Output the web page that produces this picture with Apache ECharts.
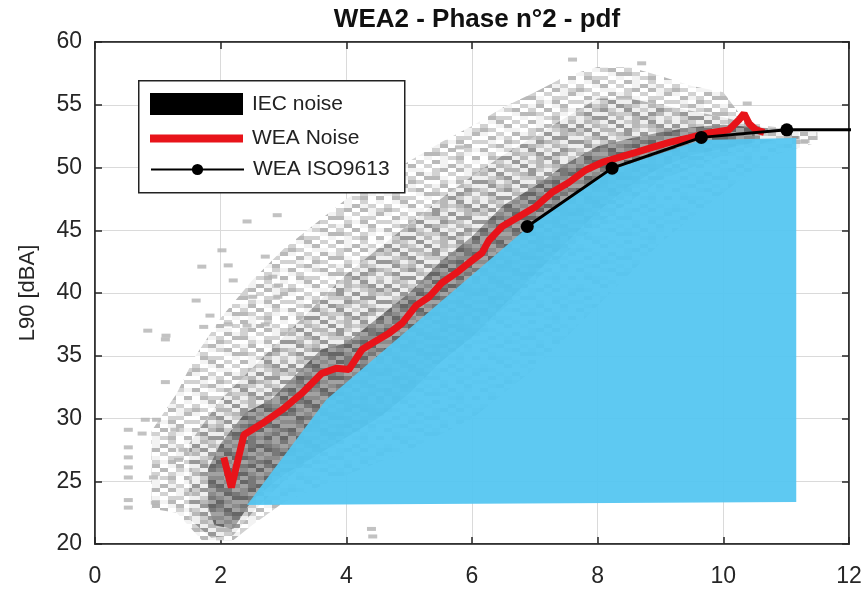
<!DOCTYPE html>
<html>
<head>
<meta charset="utf-8">
<title>WEA2 - Phase n°2 - pdf</title>
<script src="https://cdn.jsdelivr.net/npm/echarts@6/dist/echarts.min.js"></script>
<style>
  html, body { margin: 0; padding: 0; background: #fff; }
  #chart { width: 865px; height: 590px; }
</style>
</head>
<body>
<div id="chart"></div>
<script>
// WEA Noise (red curve): [wind speed, L90]
var weaNoise = [[2.05,26.9],[2.17,24.5],[2.37,28.7],[2.66,29.6],[2.98,30.7],[3.29,32.0],[3.61,33.6],
  [3.84,34.0],[4.04,33.9],[4.25,35.5],[4.41,36.0],[4.68,36.8],[4.89,37.6],[5.11,39.0],[5.32,39.7],
  [5.52,40.8],[5.75,41.6],[5.95,42.4],[6.16,43.2],[6.27,44.2],[6.48,45.3],[6.75,46.1],[7.02,46.9],
  [7.27,48.0],[7.54,48.8],[7.81,49.8],[8.07,50.4],[8.34,50.8],[8.61,51.2],[8.87,51.6],[9.14,52.0],
  [9.45,52.35],[9.77,52.75],[10.09,53.0],[10.25,53.8],[10.33,54.3],[10.41,53.5],[10.52,53.0],[10.65,52.8]];

// WEA ISO9613 (black line with markers)
var isoX = [6.88, 8.23, 9.65, 11.01, 12.5];
var isoY = [45.3, 49.95, 52.4, 53.0, 53.0];

// IEC noise area (blue patch outline)
var iecArea = [[2.42,23.1],[3.68,31.5],[6.88,45.2],[8.23,49.85],[9.65,52.2],[11.16,52.35],[11.16,23.35]];

// pdf cloud envelopes (grey density), top and bottom edges left to right
var sparseTop = [[0.9,29],[1.3,32],[1.6,35],[2.0,38],[2.5,41],[3.0,43.5],[3.5,45.5],[4.0,47.5],[4.5,49],
  [5.0,50.5],[5.5,52],[6.0,53.3],[6.5,54.8],[7.0,56],[7.5,57.3],[8.0,58],[8.5,58],[9.0,57.3],[9.5,56.5],
  [10.0,56],[10.3,54],[10.7,53.3],[11.2,53],[11.5,52.8]];
var sparseBottom = [[0.9,22.8],[1.3,22.5],[1.7,20.3],[2.2,20.3],[2.5,21.5],[3.0,23.3],[4.0,25.5],
  [5.0,27.5],[6.0,30],[7.0,34],[8.0,39],[9.0,44],[10.0,48],[10.8,51],[11.5,52]];
var denseTop = [[1.5,28],[2.0,31.5],[2.5,34],[3.0,36.5],[3.5,39],[4.0,41.5],[4.5,43.5],[5.0,45.5],
  [5.5,47.5],[6.0,49.3],[6.5,51],[7.0,52.5],[7.5,54],[8.0,55.5],[8.5,55.5],[9.0,55],[9.5,54.5],[10.0,54],
  [10.4,53.5],[10.8,53.0],[11.2,52.8]];
var denseBottom = [[1.5,22],[1.85,20.5],[2.2,20.7],[2.5,22.5],[3.0,25],[3.5,27],[4.0,29],[5.0,32.5],
  [6.0,36.5],[7.0,41],[8.0,45.5],[9.0,49],[10.0,51],[10.8,52.2],[11.2,52.3]];
var coreTop = [[1.8,26],[2.0,28],[2.4,30.5],[2.8,31.5],[3.2,33.5],[3.6,35.5],[4.0,36],[4.5,38],[5.0,40],
  [5.5,42.5],[6.0,44.5],[6.5,47],[7.0,48.5],[7.5,50.3],[8.0,51.7],[8.5,52.3],[9.0,52.8],[9.5,53.2],
  [10.0,53.4],[10.5,53.2]];
var coreBottom = [[1.8,23],[1.9,21.5],[2.2,21.2],[2.5,23.5],[3.0,25.5],[3.5,27],[4.0,28.5],[4.5,30],
  [5.0,32],[5.5,34.5],[6.0,36.5],[6.5,39],[7.0,41.5],[7.5,44],[8.0,46.5],[8.5,48.5],[9.0,50],[9.5,51],
  [10.0,51.5],[10.5,52]];

// isolated cells of the pdf
var outliers = [[2.42,45.7],[2.90,46.2],[2.02,43.4],[2.71,42.9],[1.70,42.1],[2.12,42.2],[2.20,41.0],
  [2.83,41.3],[2.92,40.6],[1.61,39.4],[2.51,39.7],[2.91,39.7],[1.83,38.2],[0.84,37.0],[1.13,36.6],
  [1.73,37.3],[2.12,37.5],[2.42,37.4],[2.71,37.5],[1.12,36.3],[1.12,32.9],[0.53,29.1],[0.53,27.7],
  [0.53,26.9],[0.53,26.1],[0.53,25.3],[0.53,23.5],[0.53,22.9],[0.75,28.8],[0.80,29.9],[0.98,29.9],
  [0.96,23.3],[0.93,25.3],[1.33,26.7],[1.27,29.1],[1.40,27.5],[4.40,21.2],[4.42,20.6],
  [10.38,55.1],[11.3,52.1],[5.8,51.6],[8.7,58.3],[7.6,58.6]];

var font = "'Liberation Sans', Arial, sans-serif";
var ink = '#262626';

// mottled texture for the pdf cells (8x4 px cells, 4 shade levels)
var cellRows = [
  '013020310201',
  '201302013120',
  '320110230312',
  '102031202013',
  '031203310220',
  '210320021302',
  '023102130130',
  '301230203021',
  '120013320210',
  '032201012303'
];
function cellPattern(shades) {
  var c = document.createElement('canvas');
  c.width = 96; c.height = 40;
  var ctx = c.getContext('2d');
  cellRows.forEach(function (row, r) {
    for (var k = 0; k < row.length; k++) {
      ctx.fillStyle = shades[+row[k]];
      ctx.fillRect(k * 8, r * 4, 8, 4);
    }
  });
  return { image: c, repeat: 'repeat' };
}

function band(top, bottom, fill) {
  var pts = top.concat(bottom.slice().reverse());
  return {
    type: 'custom',
    silent: true,
    clip: true,
    data: [[0, 20]],
    renderItem: function (params, api) {
      return {
        type: 'polygon',
        shape: { points: pts.map(function (p) { return api.coord(p); }) },
        style: { fill: fill }
      };
    }
  };
}

var chart = echarts.init(document.getElementById('chart'), null, { renderer: 'canvas' });

var axisLineStyle = { color: ink, width: 1.5 };
var legendText = { fontSize: 21, color: '#222', padding: [0, 0, 0, 4] };

chart.setOption({
  animation: false,
  textStyle: { fontFamily: font },
  title: {
    text: 'WEA2 - Phase n°2 - pdf',
    left: 472,
    textAlign: 'center',
    top: 2,
    textStyle: { fontSize: 26, fontWeight: 'bold', color: '#111', fontFamily: font }
  },
  grid: { left: 95, right: 16, top: 42, bottom: 46, show: true, borderColor: ink, borderWidth: 1.5 },
  graphic: [{
    type: 'rect',
    left: 138, top: 80, z: 3,
    shape: { width: 266, height: 112 },
    style: { fill: '#fff', stroke: '#222', lineWidth: 1.5 }
  }],
  legend: [{
    data: [{ name: 'IEC noise', icon: 'rect', itemStyle: { color: '#000' } }],
    left: 150, top: 93, padding: 0,
    itemWidth: 93, itemHeight: 22,
    selectedMode: false,
    textStyle: legendText
  }, {
    data: [{ name: 'WEA Noise', icon: 'rect', itemStyle: { color: '#e8141a' } }],
    left: 150, top: 128, padding: 0,
    itemWidth: 93, itemHeight: 8,
    selectedMode: false,
    textStyle: legendText
  }, {
    data: ['WEA ISO9613'],
    left: 150, top: 159, padding: 0,
    itemWidth: 93, itemHeight: 14,
    selectedMode: false,
    textStyle: legendText
  }],
  xAxis: [{
    type: 'value', min: 0, max: 12, interval: 2, position: 'bottom',
    axisLine: { show: true, onZero: false, lineStyle: axisLineStyle },
    axisTick: { show: true, inside: true, length: 7, lineStyle: axisLineStyle },
    axisLabel: { fontSize: 23, color: ink, margin: 21 },
    splitLine: { show: true, lineStyle: { color: '#dadada', width: 1 } }
  }, {
    type: 'value', min: 0, max: 12, interval: 2, position: 'top',
    axisLine: { show: true, onZero: false, lineStyle: axisLineStyle },
    axisTick: { show: true, inside: true, length: 7, lineStyle: axisLineStyle },
    axisLabel: { show: false },
    splitLine: { show: false }
  }],
  yAxis: [{
    type: 'value', min: 20, max: 60, interval: 5, position: 'left',
    name: 'L90 [dBA]', nameLocation: 'middle', nameGap: 56,
    nameTextStyle: { fontSize: 22, color: ink },
    axisLine: { show: true, onZero: false, lineStyle: axisLineStyle },
    axisTick: { show: true, inside: true, length: 7, lineStyle: axisLineStyle },
    axisLabel: { fontSize: 23, color: ink, margin: 13 },
    splitLine: { show: true, lineStyle: { color: '#dadada', width: 1 } }
  }, {
    type: 'value', min: 20, max: 60, interval: 5, position: 'right',
    axisLine: { show: true, onZero: false, lineStyle: axisLineStyle },
    axisTick: { show: true, inside: true, length: 7, lineStyle: axisLineStyle },
    axisLabel: { show: false },
    splitLine: { show: false }
  }],
  series: [
    band(sparseTop, sparseBottom, cellPattern(['#ffffff', '#f3f3f3', '#d2d2d2', '#b9b9b9'])),
    band(denseTop, denseBottom, cellPattern(['#efefef', '#b8b8b8', '#989898', '#cccccc'])),
    band(coreTop, coreBottom, cellPattern(['#a2a2a2', '#787878', '#8c8c8c', '#666666'])),
    {
      type: 'scatter',
      silent: true,
      symbol: 'rect',
      symbolSize: [9, 4],
      itemStyle: { color: '#b3b3b3' },
      data: outliers
    },
    {
      name: 'IEC noise',
      type: 'custom',
      silent: true,
      clip: true,
      data: [[0, 20]],
      renderItem: function (params, api) {
        return {
          type: 'polygon',
          shape: { points: iecArea.map(function (p) { return api.coord(p); }) },
          style: { fill: 'rgba(84,198,241,0.94)' }
        };
      }
    },
    {
      name: 'WEA Noise',
      type: 'line',
      symbol: 'none',
      lineStyle: { color: '#e8141a', width: 7 },
      itemStyle: { color: '#e8141a' },
      data: weaNoise
    },
    {
      name: 'WEA ISO9613',
      type: 'line',
      symbol: 'circle',
      symbolSize: 13,
      lineStyle: { color: '#000', width: 3 },
      itemStyle: { color: '#000' },
      data: isoX.map(function (x, i) {
        return i < isoX.length - 1 ? [x, isoY[i]] : { value: [x, isoY[i]], symbol: 'none' };
      })
    }
  ]
});

window.onresize = function () {
  chart.resize();
};
</script>
</body>
</html>
